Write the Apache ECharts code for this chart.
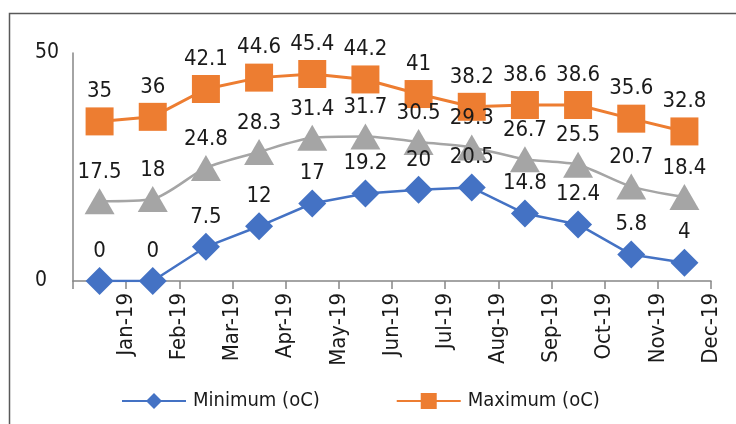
<!DOCTYPE html>
<html>
<head>
<meta charset="utf-8">
<script src="https://cdn.jsdelivr.net/npm/echarts@6/dist/echarts.min.js"></script>
<style>
    html, body { margin: 0; padding: 0; background: #fff; }
    #chart { width: 736px; height: 424px; }
</style>
</head>
<body>
<div id="chart"></div>
<script>
// Monthly temperatures 2019
const months = ['Jan-19', 'Feb-19', 'Mar-19', 'Apr-19', 'May-19', 'Jun-19',
    'Jul-19', 'Aug-19', 'Sep-19', 'Oct-19', 'Nov-19', 'Dec-19'];
const minimumTemps = [0, 0, 7.5, 12, 17, 19.2, 20, 20.5, 14.8, 12.4, 5.8, 4];
const maximumTemps = [35, 36, 42.1, 44.6, 45.4, 44.2, 41, 38.2, 38.6, 38.6, 35.6, 32.8];
const meanTemps = [17.5, 18, 24.8, 28.3, 31.4, 31.7, 30.5, 29.3, 26.7, 25.5, 20.7, 18.4];
const yTicks = [0, 50];

const FONT = '"DejaVu Sans Condensed", "DejaVu Sans", sans-serif';

document.addEventListener('DOMContentLoaded', function() {
    initializeChart();
});

function labelStyle() {
    return {
        show: true,
        position: 'top',
        distance: 5,
        color: '#1a1a1a',
        fontFamily: FONT,
        fontSize: 22
    };
}

function initializeChart() {
    const chart = echarts.init(document.getElementById('chart'), null, { renderer: 'canvas' });

    // tick labels sit on the category boundaries, one step to the right of each point
    const boundaryLabels = [''].concat(months);

    const option = {
        backgroundColor: '#ffffff',
        animation: false,
        textStyle: { fontFamily: FONT },
        graphic: [{
            type: 'polyline',
            shape: { points: [[9.5, 424], [9.5, 13.5], [736, 13.5]] },
            style: { stroke: '#595959', lineWidth: 1.5, fill: null },
            silent: true
        }],
        grid: { left: 73, right: 25, top: 53, bottom: 143 },
        legend: {
            data: ['Minimum (oC)', 'Maximum (oC)'],
            left: 116,
            top: 386,
            itemWidth: 64,
            itemHeight: 20,
            itemGap: 76,
            textStyle: { fontFamily: FONT, fontSize: 20, color: '#1a1a1a', padding: [0, 0, 0, 2] }
        },
        xAxis: [{
            type: 'category',
            data: months,
            boundaryGap: true,
            axisLine: { lineStyle: { color: '#868686', width: 1.5 } },
            axisTick: { show: false },
            axisLabel: { show: false }
        }, {
            type: 'category',
            data: boundaryLabels,
            boundaryGap: false,
            position: 'bottom',
            offset: 0,
            axisLine: { show: false },
            axisTick: { show: true, length: 8, interval: 0, lineStyle: { color: '#868686', width: 1.5 } },
            axisLabel: {
                interval: 0,
                rotate: 90,
                margin: 12,
                color: '#1a1a1a',
                fontFamily: FONT,
                fontSize: 22
            }
        }],
        yAxis: {
            type: 'value',
            min: yTicks[0],
            max: yTicks[yTicks.length - 1],
            interval: yTicks[1] - yTicks[0],
            axisLine: { show: true, lineStyle: { color: '#868686', width: 1.5 } },
            axisTick: { show: false },
            splitLine: { show: false },
            axisLabel: {
                align: 'left',
                margin: 38,
                color: '#1a1a1a',
                fontFamily: FONT,
                fontSize: 21
            }
        },
        series: [{
            name: 'Minimum (oC)',
            type: 'line',
            xAxisIndex: 0,
            data: minimumTemps,
            symbol: 'diamond',
            symbolSize: 28,
            itemStyle: { color: '#4472C4' },
            lineStyle: { color: '#4472C4', width: 2.5 },
            label: labelStyle()
        }, {
            name: 'Maximum (oC)',
            type: 'line',
            xAxisIndex: 0,
            data: maximumTemps,
            symbol: 'rect',
            symbolSize: 28,
            itemStyle: { color: '#ED7D31' },
            lineStyle: { color: '#ED7D31', width: 3 },
            label: labelStyle()
        }, {
            name: 'Mean (oC)',
            type: 'line',
            xAxisIndex: 0,
            data: meanTemps,
            smooth: 0.25,
            symbol: 'triangle',
            symbolSize: [30, 26],
            itemStyle: { color: '#A5A5A5' },
            lineStyle: { color: '#A5A5A5', width: 2.5 },
            label: labelStyle()
        }]
    };
    chart.setOption(option);
}
</script>
</body>
</html>
